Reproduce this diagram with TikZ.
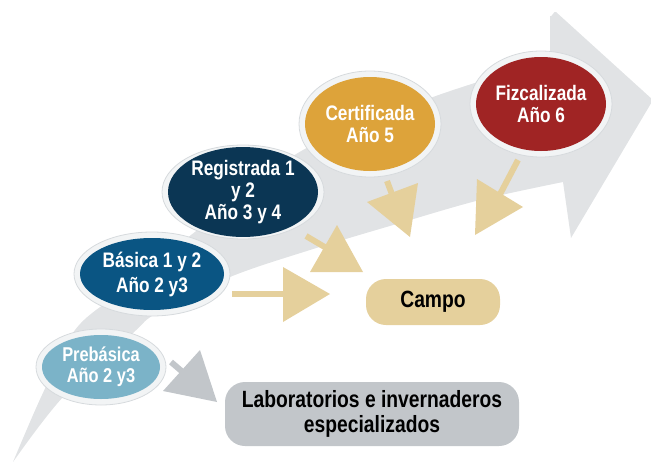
\documentclass[tikz,border=0pt]{standalone}
\usepackage{fontspec}
\setmainfont{Liberation Sans}[FakeStretch=0.82]
\usetikzlibrary{shapes.geometric}
\definecolor{bandgray}{HTML}{E1E3E5}
\definecolor{boxgray}{HTML}{C2C6CA}
\definecolor{tan}{HTML}{E5D09C}
\definecolor{haloc}{HTML}{F2F4F5}
\definecolor{haloedge}{HTML}{D6DADD}
\definecolor{cPre}{HTML}{7BB3C8}
\definecolor{cBas}{HTML}{0A5583}
\definecolor{cReg}{HTML}{0B3654}
\definecolor{cCer}{HTML}{DDA33A}
\definecolor{cFiz}{HTML}{A02424}
\begin{document}
\begin{tikzpicture}[x=1pt,y=-1pt,
  stage/.style={ellipse, inner sep=0pt, text=white, align=center},
  halo/.style={fill=haloc, draw=haloedge, line width=0.8pt},
  stem/.style={draw=tan, line width=6pt},
  gstem/.style={draw=boxgray, line width=6pt},
  tbox/.style={rounded corners=20pt, inner sep=0pt, align=center, text=black,
    font=\bfseries\fontsize{23.5}{25}\selectfont}]
\useasboundingbox (0,0) rectangle (651,463);
% big background arrow
\fill[bandgray] plot[smooth, tension=0.55] coordinates {(13,462) (42,395) (75,330) (120,292) (200,228) (303,150) (433,97) (550,60)}
  -- (550,16) to[out=-60,in=140] (556,12) -- (653,100) -- (571,238) -- (563,182)
  -- plot[smooth, tension=0.55] coordinates {(563,182) (480,200) (400,223) (310,250) (230,277) (157,313) (133,333) (63,397) (13,462)} -- cycle;
% halos
\filldraw[halo] (101,367) ellipse [x radius=65pt, y radius=38pt];
\filldraw[halo] (152,274) ellipse [x radius=78pt, y radius=42pt];
\filldraw[halo] (243,192) ellipse [x radius=81pt, y radius=47pt];
\filldraw[halo] (370,124) ellipse [x radius=71pt, y radius=53pt];
\filldraw[halo] (541,104) ellipse [x radius=71pt, y radius=53pt];
% stages
\node[stage, fill=cPre, minimum width=118pt, minimum height=64pt,
  font=\bfseries\fontsize{20}{21}\selectfont] (pre) at (101,367) {Prebásica\\Año 2 y3};
\node[stage, fill=cBas, minimum width=144pt, minimum height=72pt,
  font=\bfseries\fontsize{21}{25}\selectfont] (bas) at (152,274) {Básica 1 y 2\\Año 2 y3};
\node[stage, fill=cReg, minimum width=150pt, minimum height=82pt,
  font=\bfseries\fontsize{21}{22}\selectfont] (reg) at (243,192) {Registrada 1\\y 2\\Año 3 y 4};
\node[stage, fill=cCer, minimum width=130pt, minimum height=94pt,
  font=\bfseries\fontsize{21}{22}\selectfont] (cer) at (370,124) {Certificada\\Año 5};
\node[stage, fill=cFiz, minimum width=130pt, minimum height=94pt,
  font=\bfseries\fontsize{21}{22}\selectfont] (fiz) at (541,104) {Fizcalizada\\Año 6};
% target boxes
\node[tbox, fill=tan, minimum width=134pt, minimum height=46pt] (campo) at (433,302) {Campo};
\node[tbox, fill=boxgray, minimum width=294pt, minimum height=64pt] (lab) at (372,414) {Laboratorios e invernaderos\\especializados};
% arrows
\coordinate (b1) at (232,294); \coordinate (b2) at (286,294);
\draw[stem] (b1) -- (b2);
\fill[tan] (283,267) -- (330,294) -- (283,322) -- cycle;
\coordinate (r1) at (306,236); \coordinate (r2) at (328,249);
\draw[stem] (r1) -- (r2);
\fill[tan] (337,225) -- (363,272) -- (310,272) -- cycle;
\coordinate (c1) at (387,181); \coordinate (c2) at (393,197);
\draw[stem] (c1) -- (c2);
\fill[tan] (367,202) -- (418,183) -- (410,237) -- cycle;
\coordinate (f1) at (518,160); \coordinate (f2) at (497,200);
\draw[stem] (f1) -- (f2);
\fill[tan] (477,179) -- (523,207) -- (475,235) -- cycle;
\coordinate (p1) at (171,362); \coordinate (p2) at (185,374);
\draw[gstem] (p1) -- (p2);
\fill[boxgray] (200,350) -- (217,402) -- (163,391) -- cycle;
\end{tikzpicture}
\end{document}
